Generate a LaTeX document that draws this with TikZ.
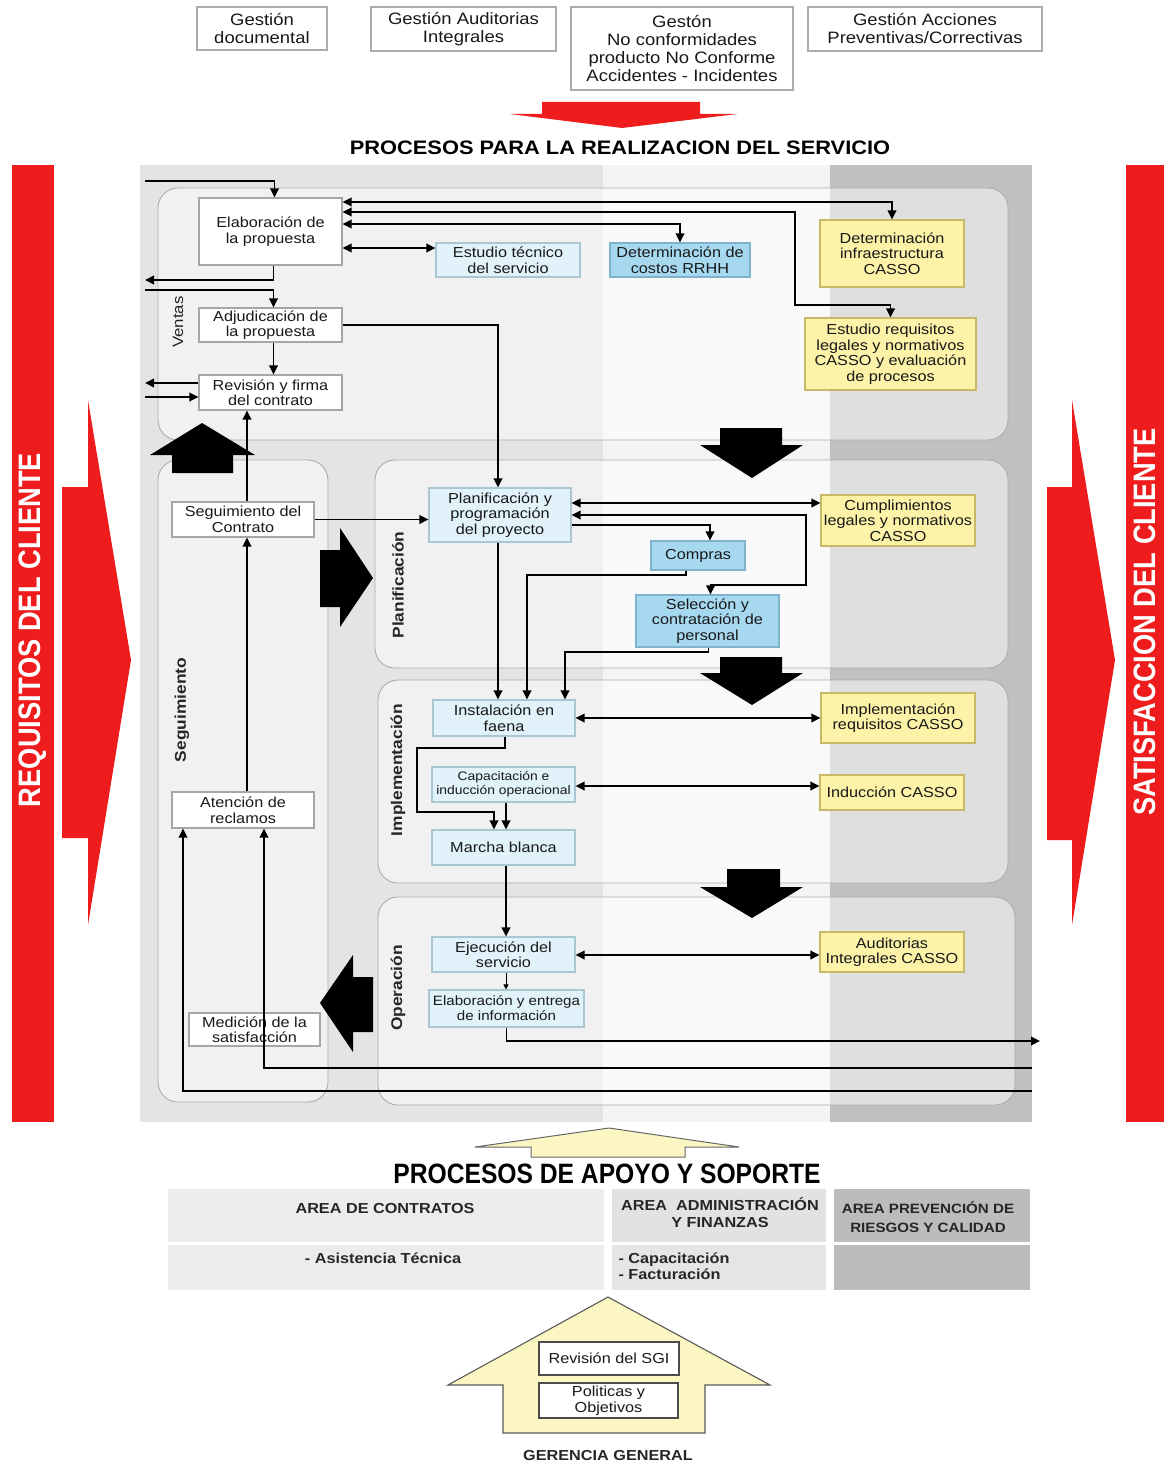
\documentclass[tikz,border=0pt]{standalone}
\usepackage{fontspec}
\setmainfont{Liberation Sans}[FakeStretch=1.12]
\newfontfamily\condfont{Liberation Sans}[FakeStretch=0.88]
\usetikzlibrary{arrows.meta}
\definecolor{bandA}{HTML}{E4E4E4}
\definecolor{bandB}{HTML}{F4F4F4}
\definecolor{bandC}{HTML}{C0C0C0}
\definecolor{lblue}{HTML}{E1F2FA}
\definecolor{lblueD}{HTML}{A9C6D3}
\definecolor{mblue}{HTML}{A6D8F0}
\definecolor{mblueD}{HTML}{7FB3CB}
\definecolor{ylw}{HTML}{FCF2A8}
\definecolor{ylwD}{HTML}{C9B865}
\definecolor{redx}{HTML}{EE1C1C}
\definecolor{paley}{HTML}{FBF6C2}
\definecolor{cellA}{HTML}{ECECEC}
\definecolor{cellB}{HTML}{E2E2E2}
\definecolor{cellC}{HTML}{BCBCBC}
\newcommand\boxtext{\fontsize{14.5}{15.5}\selectfont}
\newcommand\toptext{\fontsize{16.5}{18}\selectfont}
\tikzset{
  wbox/.style={draw=gray!70, fill=white, line width=1.1pt, inner sep=1pt, align=center, font=\boxtext, text=black!90},
  lbbox/.style={wbox, fill=lblue, draw=lblueD},
  bbox/.style={wbox, fill=mblue, draw=mblueD},
  ybox/.style={wbox, fill=ylw, draw=ylwD},
  topbox/.style={wbox, draw=gray!65, line width=1.4pt, font=\toptext},
  panel/.style={draw=gray!65, line width=0.9pt, fill=white, fill opacity=0.5, rounded corners=20pt},
  conn/.style={line width=1.9pt, draw=black},
  arr/.style={conn, -{Triangle[length=9pt,width=8.5pt]}},
  darr/.style={conn, {Triangle[length=9pt,width=8.5pt]}-{Triangle[length=9pt,width=8.5pt]}},
  blockarrow/.style={fill=black},
  lbl/.style={rotate=90, font=\fontsize{15.5}{16}\selectfont\bfseries, text=black!85},
  cellhead/.style={font=\fontsize{14.5}{17}\selectfont\bfseries, align=center, text=black!85},
}
\begin{document}
\begin{tikzpicture}[x=1pt,y=-1pt]
\useasboundingbox (0,0) rectangle (1164,1466);
\fill[white] (0,0) rectangle (1164,1466);

% ---------- top management boxes ----------
\node[topbox, minimum width=130pt, minimum height=43pt] (g1) at (262,28.5) {Gestión\\documental};
\node[topbox, minimum width=185pt, minimum height=44pt] (g2) at (463.5,29) {Gestión Auditorias\\Integrales};
\node[topbox, minimum width=222pt, minimum height=83pt] (g3) at (682,48.5) {Gestón\\No conformidades\\producto No Conforme\\Accidentes - Incidentes};
\node[topbox, minimum width=234pt, minimum height=44pt] (g4) at (925,29) {Gestión Acciones\\Preventivas/Correctivas};

% red down arrow
\fill[redx] (542,102) -- (700,102) -- (700,114) -- (737,114) -- (622,128) -- (510,114) -- (542,114) -- cycle;

\node[font=\fontsize{19.5}{20}\selectfont\bfseries] (title) at (620,148) {PROCESOS PARA LA REALIZACION DEL SERVICIO};

% ---------- side red bars ----------
\fill[redx] (12,165) rectangle (54,1122);
\fill[redx] (1126,165) rectangle (1164,1122);
\node[rotate=90, text=white, font=\condfont\fontsize{31}{32}\selectfont\bfseries] (req) at (33,630) {REQUISITOS DEL CLIENTE};
\node[rotate=90, text=white, font=\condfont\fontsize{31}{32}\selectfont\bfseries] (sat) at (1145,622) {SATISFACCION DEL CLIENTE};
\fill[redx] (62,487) -- (88,487) -- (88,400) -- (131,660) -- (88,925) -- (88,838) -- (62,838) -- cycle;
\fill[redx] (1047,487) -- (1072,487) -- (1072,400) -- (1115,660) -- (1072,925) -- (1072,840) -- (1047,840) -- cycle;

% ---------- main background ----------
\fill[bandA] (140,165) rectangle (603,1122);
\fill[bandB] (603,165) rectangle (830,1122);
\fill[bandC] (830,165) rectangle (1032,1122);

% panels
\path[panel] (158,188) rectangle (1008,440);
\path[panel] (158,460) rectangle (328,1102);
\path[panel] (375,460) rectangle (1008,668);
\path[panel] (378,680) rectangle (1008,883);
\path[panel] (378,897) rectangle (1015,1105);

% panel labels
\node[rotate=90, font=\fontsize{15}{16}\selectfont, text=black!85] (lv) at (178,322) {Ventas};
\node[lbl] (lp) at (398,585) {Planificación};
\node[lbl] (ls) at (182,710) {Seguimiento};
\node[lbl] (li) at (398,770) {Implementación};
\node[lbl] (lo) at (398,988) {Operación};

% black block arrows
\fill[blockarrow] (172,473) -- (172,455) -- (150,455) -- (202,423) -- (255,455) -- (233,455) -- (233,473) -- cycle;
\fill[blockarrow] (320,550) -- (340,550) -- (340,528) -- (373,578) -- (340,627) -- (340,607) -- (320,607) -- cycle;
\fill[blockarrow] (720,428) -- (782,428) -- (782,445) -- (803,445) -- (752,478) -- (700,445) -- (720,445) -- cycle;
\fill[blockarrow] (720,657) -- (782,657) -- (782,673) -- (803,673) -- (752,705) -- (700,673) -- (720,673) -- cycle;
\fill[blockarrow] (727,869) -- (780,869) -- (780,887) -- (803,887) -- (752,918) -- (700,887) -- (727,887) -- cycle;
\fill[blockarrow] (373,977) -- (353,977) -- (353,955) -- (320,1003) -- (353,1052) -- (353,1032) -- (373,1032) -- cycle;

% ---------- process nodes ----------
\node[wbox, minimum width=143pt, minimum height=67pt] (elab) at (270.5,231.5) {Elaboración de\\la propuesta};
\node[lbbox, minimum width=144pt, minimum height=34pt] (esttec) at (508,260) {Estudio técnico\\del servicio};
\node[bbox, minimum width=140pt, minimum height=34pt] (costos) at (680,260) {Determinación de\\costos RRHH};
\node[ybox, minimum width=144pt, minimum height=67pt] (infra) at (892,253.5) {Determinación\\infraestructura\\CASSO};
\node[ybox, minimum width=171pt, minimum height=72pt] (estreq) at (890.5,354) {Estudio requisitos\\legales y normativos\\CASSO y evaluación\\de procesos};
\node[wbox, minimum width=143pt, minimum height=34pt] (adj) at (270.5,325) {Adjudicación de\\la propuesta};
\node[wbox, minimum width=143pt, minimum height=35pt] (rev) at (270.5,392.5) {Revisión y firma\\del contrato};

\node[wbox, minimum width=142pt, minimum height=35pt] (segc) at (243,519.5) {Seguimiento del\\Contrato};
\node[lbbox, minimum width=142pt, minimum height=54pt] (plan) at (500,515) {Planificación y\\programación\\del proyecto};
\node[bbox, minimum width=94pt, minimum height=29pt] (compras) at (698,555.5) {Compras};
\node[bbox, minimum width=143pt, minimum height=52pt] (selec) at (707.5,621) {Selección y\\contratación de\\personal};
\node[ybox, minimum width=154pt, minimum height=51pt] (cumpl) at (898,520.5) {Cumplimientos\\legales y normativos\\CASSO};

\node[lbbox, minimum width=142pt, minimum height=36pt] (inst) at (504,718) {Instalación en\\faena};
\node[lbbox, minimum width=143pt, minimum height=35pt, font=\fontsize{12.4}{14}\selectfont] (capac) at (503.5,784.5) {Capacitación e\\inducción operacional};
\node[lbbox, minimum width=143pt, minimum height=35pt] (marcha) at (503.5,847.5) {Marcha blanca};
\node[ybox, minimum width=154pt, minimum height=50pt] (implreq) at (898,718) {Implementación\\requisitos CASSO};
\node[ybox, minimum width=144pt, minimum height=35pt] (induc) at (892,792.5) {Inducción CASSO};
\node[wbox, minimum width=142pt, minimum height=36pt] (atenc) at (243,810) {Atención de\\reclamos};

\node[lbbox, minimum width=143pt, minimum height=35pt] (ejec) at (503.5,954.5) {Ejecución del\\servicio};
\node[lbbox, minimum width=155pt, minimum height=37pt, font=\fontsize{13.5}{15}\selectfont] (elabinf) at (506.5,1008.5) {Elaboración y entrega\\de información};
\node[ybox, minimum width=144pt, minimum height=40pt] (audit) at (892,952) {Auditorias\\Integrales CASSO};
\node[wbox, minimum width=131pt, minimum height=33pt] (medic) at (254.5,1029.5) {Medición de la\\satisfacción};

% ---------- connectors ----------
\coordinate (inElab) at (145,181);
\coordinate (outElab) at (145,280);
\coordinate (inAdj) at (145,290);
\coordinate (outRev) at (145,383);
\coordinate (inRev) at (145,397);
\coordinate (inA1) at (1032,1091);
\coordinate (inA2) at (1032,1068);
\coordinate (outInf) at (1040,1041);

\draw[arr] (inElab) -| ([xshift=4pt]elab.north);
\draw[darr] (elab.east |- 0,202) -| (infra.north);
\draw[darr] (elab.east |- 0,212) -- (795,212) -- (795,305) -| (estreq.north);
\draw[darr] (elab.east |- 0,224) -| (costos.north);
\draw[darr] (elab.east |- 0,248) -- (esttec.west |- 0,248);
\draw[arr] ([xshift=3pt]elab.south) |- (outElab);
\draw[arr] (inAdj) -| ([xshift=3pt]adj.north);
\draw[arr] ([xshift=3pt]adj.south) -- ([xshift=3pt]rev.north);
\draw[arr] (rev.west |- 0,383) -- (outRev);
\draw[arr] (inRev) -- (rev.west |- 0,397);
\draw[arr] (adj.east) -| ([xshift=-2pt]plan.north);

\draw[arr] ([xshift=4pt]segc.north) -- ([xshift=4pt]segc.north |- rev.south);
\draw[arr] (segc.east) -- (plan.west |- segc.east);
\draw[arr] ([xshift=4pt]atenc.north) -- ([xshift=4pt]segc.south);
\draw[arr] (inA1) -| ([xshift=-60pt]atenc.south);
\draw[arr] (inA2) -| ([xshift=21pt]atenc.south);

\draw[darr] (plan.east |- 0,503) -- (cumpl.west |- 0,503);
\draw[darr] (plan.east |- 0,515) -- (806,515) -- (806,585) -| ([xshift=3pt]selec.north);
\draw[arr] (plan.east |- 0,525) -| ([xshift=12pt]compras.north);
\draw[arr] ([xshift=-12pt]compras.south) |- (527,575) -- ([xshift=23pt]inst.north);
\draw[arr] ([xshift=1pt]selec.south) |- (565,652) -- ([xshift=61pt]inst.north);
\draw[arr] ([xshift=-2pt]plan.south) -- ([xshift=-2pt]plan.south |- inst.north);

\draw[darr] (inst.east) -- (implreq.west);
\draw[darr] (capac.east |- 0,786) -- (induc.west |- 0,786);
\draw[arr] ([xshift=1pt]inst.south) |- (417,748) |- (494,812) -- ([xshift=-9.5pt]marcha.north);
\draw[arr] ([xshift=2.5pt]capac.south) -- ([xshift=2.5pt]marcha.north);
\draw[arr] ([xshift=2.5pt]marcha.south) -- ([xshift=2.5pt]ejec.north);

\draw[darr] (ejec.east |- 0,955) -- (audit.west |- 0,955);
\draw[line width=0.9pt, -{Triangle[length=5pt,width=5pt]}] ([xshift=2.5pt]ejec.south) -- ([xshift=2.5pt]ejec.south |- elabinf.north);
\draw[arr] (elabinf.south) |- (outInf);

% ---------- support processes ----------
\filldraw[fill=paley, draw=gray!80!black, line width=1pt] (531,1157) -- (531,1147) -- (475,1147) -- (609,1128) -- (739,1147) -- (685,1147) -- (685,1157) -- cycle;
\node[font=\condfont\fontsize{28}{29}\selectfont\bfseries] (apoyo) at (607,1174) {PROCESOS DE APOYO Y SOPORTE};

\fill[cellA] (168,1189) rectangle (604,1242);
\fill[cellB] (612,1189) rectangle (826,1242);
\fill[cellC] (834,1189) rectangle (1030,1242);
\fill[cellA] (168,1245) rectangle (604,1290);
\fill[cellB!70!cellA] (612,1245) rectangle (826,1290);
\fill[cellC] (834,1245) rectangle (1030,1290);

\node[cellhead] (c1) at (385,1208) {AREA DE CONTRATOS};
\node[cellhead] (c2) at (720,1213) {AREA\ \ ADMINISTRACIÓN\\Y FINANZAS};
\node[cellhead, font=\fontsize{13.5}{19}\selectfont\bfseries] (c3) at (928,1217) {AREA PREVENCIÓN DE\\RIESGOS Y CALIDAD};
\node[cellhead] (c4) at (383,1258) {- Asistencia Técnica};
\node[cellhead, align=left, anchor=west, font=\fontsize{14.5}{16.5}\selectfont\bfseries] (c5) at (615,1266) {- Capacitación\\- Facturación};

% house arrow
\filldraw[fill=paley, draw=gray!70!black, line width=1.1pt] (503,1433) -- (503,1385) -- (448,1385) -- (608,1297) -- (770,1385) -- (705,1385) -- (705,1433) -- cycle;
\node[wbox, draw=gray!60!black, minimum width=140pt, minimum height=33pt] (sgi) at (609,1358.5) {Revisión del SGI};
\node[wbox, draw=gray!60!black, minimum width=139pt, minimum height=35pt] (pol) at (608.5,1400.5) {Politicas y\\Objetivos};
\node[font=\fontsize{14.5}{16}\selectfont\bfseries, text=black!85] (ger) at (608,1455) {GERENCIA GENERAL};
\end{tikzpicture}
\end{document}
